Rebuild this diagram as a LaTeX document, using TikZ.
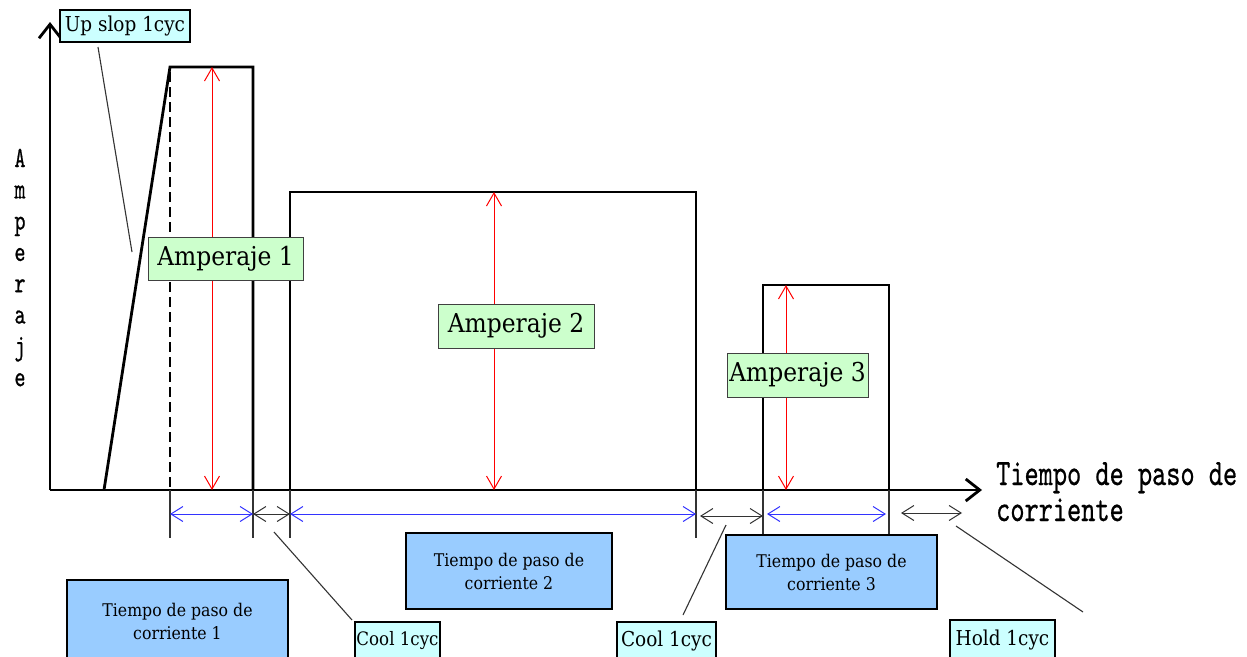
\documentclass[tikz,border=0pt]{standalone}
\usepackage{fontspec}
\setmainfont{DejaVu Serif}[FakeStretch=0.9]
\newfontfamily\mincho{lmmono10-regular.otf}[FakeBold=0.8]
\usetikzlibrary{arrows.meta}
\definecolor{cyanbox}{HTML}{CCFFFF}
\definecolor{greenbox}{HTML}{CCFFCC}
\definecolor{bluebox}{HTML}{99CCFF}
\definecolor{dimblue}{HTML}{3333FF}
\definecolor{leadgray}{HTML}{333333}
\begin{document}
\begin{tikzpicture}[x=1pt,y=-1pt,
  pulse/.style={line width=2.8pt,line join=miter},
  axisline/.style={line width=2.8pt,-{Straight Barb[length=14pt,width=22pt,line width=2.8pt]}},
  ampbox/.style={draw=black!75,line width=1pt,fill=greenbox,inner sep=0pt,font=\fontsize{26}{30}\selectfont},
  cycbox/.style={draw=black,line width=2pt,fill=cyanbox,inner sep=0pt,font=\fontsize{20.5}{24}\selectfont},
  timebox/.style={draw=black,line width=2.4pt,fill=bluebox,inner sep=0pt,align=center,font=\fontsize{17.5}{23}\selectfont},
  amparrow/.style={red,line width=1pt,{Straight Barb[length=13pt,width=15pt]}-{Straight Barb[length=13pt,width=15pt]}},
  bluedim/.style={dimblue,line width=1pt,{Straight Barb[length=12pt,width=15pt]}-{Straight Barb[length=12pt,width=15pt]}},
  blackdim/.style={leadgray,line width=1pt,{Straight Barb[length=12pt,width=15pt]}-{Straight Barb[length=12pt,width=15pt]}},
  extline/.style={leadgray,line width=1.3pt},
  leader/.style={leadgray,line width=1.1pt},
  vlab/.style={font=\mincho\fontsize{21}{24}\selectfont,inner sep=0pt,anchor=base},
  axlab/.style={inner sep=0pt,anchor=base west,font=\mincho\fontsize{27}{30}\selectfont}
]
\clip (0,0) rectangle (1247,656);
\fill[white] (0,0) rectangle (1247,656);

% key coordinates
\coordinate (o) at (50,490);
\coordinate (ytop) at (50,22);
\coordinate (xend) at (982,490);
\coordinate (r0) at (104,490);
\coordinate (p1a) at (170,67);
\coordinate (p1b) at (253,67);
\coordinate (p1c) at (253,490);
\coordinate (d1a) at (170,72);
\coordinate (d1b) at (170,490);
\coordinate (p2a) at (290,490);
\coordinate (p2b) at (290,192);
\coordinate (p2c) at (696,192);
\coordinate (p2d) at (696,490);
\coordinate (p3a) at (763,490);
\coordinate (p3b) at (763,285);
\coordinate (p3c) at (889,285);
\coordinate (p3d) at (889,490);

% axes
\draw[axisline] (o) -- (ytop);
\draw[axisline] (o) -- (xend);

% pulses
\draw[pulse] (r0) -- (p1a) -- (p1b) -- (p1c);
\draw[pulse,dash pattern=on 10pt off 5pt] (d1a) -- (d1b);
\draw[pulse] (p2a) -- (p2b) -- (p2c) -- (p2d);
\draw[pulse] (p3a) -- (p3b) -- (p3c) -- (p3d);

% amperage arrows
\coordinate (a1t) at (212,67);  \coordinate (a1b) at (212,490);
\coordinate (a2t) at (494,192); \coordinate (a2b) at (494,490);
\coordinate (a3t) at (786,285); \coordinate (a3b) at (786,490);
\draw[amparrow] (a1t) -- (a1b);
\draw[amparrow] (a2t) -- (a2b);
\draw[amparrow] (a3t) -- (a3b);

% extension lines
\coordinate (e1) at (170,538); \coordinate (e2) at (253,538); \coordinate (e3) at (290,538);
\coordinate (e4) at (696,538); \coordinate (e5) at (763,540); \coordinate (e6) at (889,535);
\draw[extline] (d1b) -- (e1);
\draw[extline] (p1c) -- (e2);
\draw[extline] (p2a) -- (e3);
\draw[extline] (p2d) -- (e4);
\draw[extline] (p3a) -- (e5);
\draw[extline] (p3d) -- (e6);

% dimension arrows
\coordinate (m1) at (170,514); \coordinate (m2) at (253,514); \coordinate (m3) at (290,514);
\coordinate (m4) at (696,514); \coordinate (m5) at (700,516); \coordinate (m6) at (763,516);
\coordinate (m7) at (767,514); \coordinate (m8) at (886,514);
\coordinate (m9) at (901,513); \coordinate (m10) at (962,513);
\draw[bluedim] (m1) -- (m2);
\draw[blackdim] (m2) -- (m3);
\draw[bluedim] (m3) -- (m4);
\draw[blackdim] (m5) -- (m6);
\draw[bluedim] (m7) -- (m8);
\draw[blackdim] (m9) -- (m10);

% amperage labels
\node[ampbox,minimum width=155pt,minimum height=43pt] (amp1) at (225.5,258.5) {Amperaje 1};
\node[ampbox,minimum width=156pt,minimum height=44pt] (amp2) at (516,326) {Amperaje 2};
\node[ampbox,minimum width=141pt,minimum height=44pt] (amp3) at (797.5,375) {Amperaje 3};

% time boxes
\node[timebox,minimum width=221pt,minimum height=82pt] (t1) at (177.5,621) {Tiempo de paso de\\corriente 1};
\node[timebox,minimum width=206pt,minimum height=76pt] (t2) at (509,571) {Tiempo de paso de\\corriente 2};
\node[timebox,minimum width=211pt,minimum height=74pt] (t3) at (831.5,572) {Tiempo de paso de\\corriente 3};

% cycle boxes
\node[cycbox,minimum width=130pt,minimum height=32pt] (up) at (125,26) {Up slop 1cyc};
\node[cycbox,minimum width=85pt,minimum height=38pt,font=\fontsize{18.5}{22}\selectfont] (cool1) at (397.5,641) {Cool 1cyc};
\node[cycbox,minimum width=99pt,minimum height=38pt] (cool2) at (666.5,641) {Cool 1cyc};
\node[cycbox,minimum width=105pt,minimum height=40pt] (hold) at (1002.5,640) {Hold 1cyc};

% leader lines
\coordinate (lu1) at (98,47);   \coordinate (lu2) at (132,252);
\coordinate (lc1) at (274,532); \coordinate (lc2) at (352,620);
\coordinate (lk1) at (726,525); \coordinate (lk2) at (683,615);
\coordinate (lh1) at (956,526); \coordinate (lh2) at (1083,612);
\draw[leader] (lu1) -- (lu2);
\draw[leader] (lc1) -- (lc2);
\draw[leader] (lk1) -- (lk2);
\draw[leader] (lh1) -- (lh2);

% axis labels
\foreach \c [count=\i] in {A,m,p,e,r,a,j,e}
  \node[vlab] (v\i) at (20,{167+(\i-1)*31.3}) {\scalebox{1}[1.4]{\c}};
\node[axlab] (xl1) at (996,485) {\scalebox{1}[1.38]{Tiempo de paso de}};
\node[axlab] (xl2) at (996,521) {\scalebox{1}[1.38]{corriente}};
\end{tikzpicture}
\end{document}
